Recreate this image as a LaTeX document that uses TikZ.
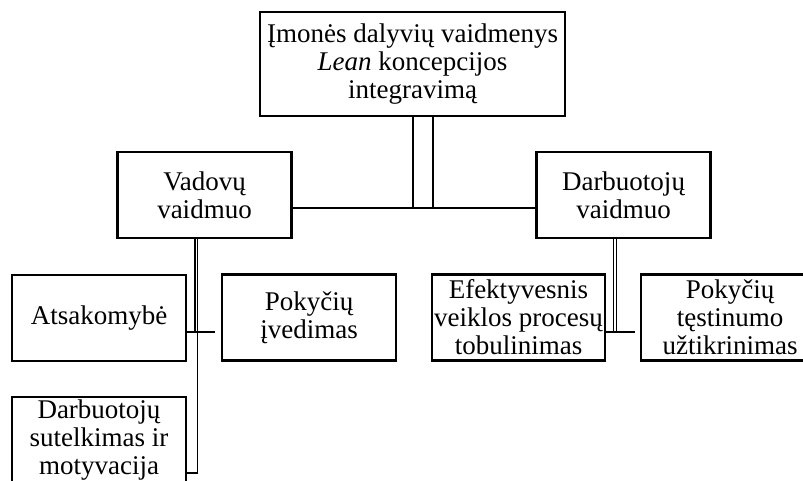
\documentclass[tikz,border=0pt]{standalone}
\usepackage{fontspec}
\setmainfont{Liberation Serif}
\usepackage{tikz}
\usetikzlibrary{positioning,calc}

\begin{document}
\begin{tikzpicture}[x=0.5pt,y=-0.5pt,
    box/.style={draw,line width=1.1pt,align=center,inner sep=0pt,minimum width=87pt,minimum height=43pt,font=\fontsize{13.5}{14}\selectfont},
    link/.style={line width=0.9pt}]
    \useasboundingbox (0,0) rectangle (803,481);
    \clip (0,0) rectangle (803,481);
    % boxes
    \node[box,minimum width=152.5pt,minimum height=52pt] (top) at (412.5,64) {Įmonės dalyvių vaidmenys\\\textit{Lean} koncepcijos\\integravimą};
    \node[box] (vadovai) at (204.5,195) {Vadovų\\vaidmuo};
    \node[box] (darbuotojai) at (623.5,195) {Darbuotojų\\vaidmuo};
    \node[box] (atsak) at (99,318) {Atsakomybė};
    \node[box] (ivedimas) at (309,317.5) {Pokyčių\\įvedimas};
    \node[box] (sutelkimas) at (99,440) {Darbuotojų\\sutelkimas ir\\motyvacija};
    \node[box,minimum width=86.5pt] (efekt) at (518.5,317.5) {Efektyvesnis\\veiklos procesų\\tobulinimas};
    \node[box,minimum width=89pt] (testinumas) at (730,317.5) {Pokyčių\\tęstinumo\\užtikrinimas};
    % connectors
    \coordinate (hubL) at (413,208);
    \coordinate (hubR) at (433,208);
    \coordinate (vadL) at (195,332);
    \coordinate (vadR) at (197.5,332);
    \coordinate (vadEnd) at (215,332);
    \coordinate (vadLow) at (197.5,473);
    \coordinate (darL) at (613.5,332);
    \coordinate (darR) at (616.5,332);
    \coordinate (darEnd) at (635,332);
    \draw[link] (top.south -| hubL) -- (hubL);
    \draw[link] (top.south -| hubR) -- (hubR);
    \draw[link] (vadovai.east |- hubL) -- (darbuotojai.west |- hubL);
    \draw[link] (vadovai.south -| vadL) -- (vadL);
    \draw[link] (vadovai.south -| vadR) -- (vadLow) -- (sutelkimas.east |- vadLow);
    \draw[link] (atsak.east |- vadEnd) -- (vadEnd);
    \draw[link] (darbuotojai.south -| darL) -- (darL);
    \draw[link] (darbuotojai.south -| darR) -- (darR);
    \draw[link] (efekt.east |- darEnd) -- (darEnd);
  \end{tikzpicture}
\end{document}
